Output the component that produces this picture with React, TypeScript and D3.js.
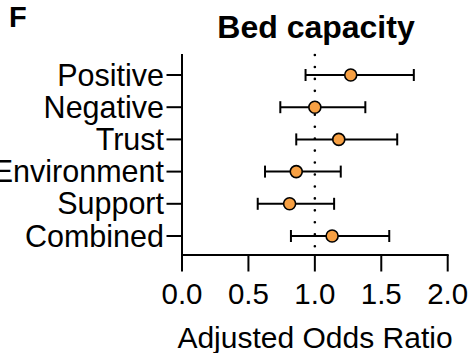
import React from "react";
import * as d3 from "d3";

const categories = ["Positive", "Negative", "Trust", "Environment", "Support", "Combined"];
const oddsRatio = [1.27, 1.0, 1.18, 0.86, 0.81, 1.13];
const ciLow = [0.93, 0.74, 0.86, 0.625, 0.57, 0.82];
const ciHigh = [1.745, 1.38, 1.62, 1.195, 1.145, 1.56];
const xTicks = [0, 0.5, 1.0, 1.5, 2.0];
const title = "Bed capacity";
const panelLabel = "F";
const xLabel = "Adjusted Odds Ratio";
const refValue = 1.0;

const W = 470;
const H = 353;
const FONT = "'Liberation Sans', Arial, sans-serif";

export default function App() {
  const x = d3.scaleLinear().domain([0, 2]).range([182, 447.7]);
  const y = d3.scalePoint<string>().domain(categories).range([75, 236]);
  const axisTop = 54;
  const axisY = 255;
  const orange = "#F7A043";

  return (
    <svg
      width={W}
      height={H}
      style={{ position: "absolute", left: 0, top: 0, background: "#fff" }}
      fontFamily={FONT}
    >
      <rect x={0} y={0} width={W} height={H} fill="#fff" />
      <text x={9} y={26.5} fontSize={29} fontWeight="bold">
        {panelLabel}
      </text>
      <text x={316} y={38.3} textAnchor="middle" fontSize={32} fontWeight="bold">
        {title}
      </text>

      {/* reference dotted line */}
      <line
        x1={x(refValue)}
        x2={x(refValue)}
        y1={55}
        y2={248}
        stroke="#000"
        strokeWidth={2.6}
        strokeLinecap="round"
        strokeDasharray="0 11.95"
      />

      {/* y axis */}
      <line x1={x(0)} x2={x(0)} y1={axisTop} y2={axisY + 1} stroke="#000" strokeWidth={2} />
      {categories.map((c) => (
        <g key={c}>
          <line x1={166.5} x2={x(0)} y1={y(c)} y2={y(c)} stroke="#000" strokeWidth={2} />
          <text x={164} y={(y(c) as number) + 10.5} textAnchor="end" fontSize={30.5}>
            {c}
          </text>
        </g>
      ))}

      {/* x axis */}
      <line x1={x(0) - 1} x2={x(2) + 1} y1={axisY} y2={axisY} stroke="#000" strokeWidth={2} />
      {xTicks.map((t) => (
        <g key={t}>
          <line x1={x(t)} x2={x(t)} y1={axisY} y2={271.5} stroke="#000" strokeWidth={2} />
          <text x={x(t)} y={304} textAnchor="middle" fontSize={29.5}>
            {d3.format(".1f")(t)}
          </text>
        </g>
      ))}
      <text x={315} y={348.3} textAnchor="middle" fontSize={30}>
        {xLabel}
      </text>

      {/* error bars and points */}
      {categories.map((c, i) => {
        const cy = y(c) as number;
        return (
          <g key={"e" + c}>
            <line x1={x(ciLow[i])} x2={x(ciHigh[i])} y1={cy} y2={cy} stroke="#000" strokeWidth={2} />
            <line x1={x(ciLow[i])} x2={x(ciLow[i])} y1={cy - 6} y2={cy + 6} stroke="#000" strokeWidth={2} />
            <line x1={x(ciHigh[i])} x2={x(ciHigh[i])} y1={cy - 6} y2={cy + 6} stroke="#000" strokeWidth={2} />
            <circle cx={x(oddsRatio[i])} cy={cy} r={6} fill={orange} stroke="#000" strokeWidth={1.6} />
          </g>
        );
      })}
    </svg>
  );
}
